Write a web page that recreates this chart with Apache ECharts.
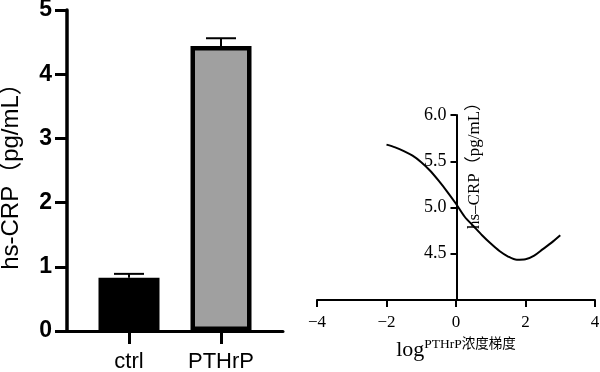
<!DOCTYPE html>
<html>
<head>
<meta charset="utf-8">
<script src="https://cdn.jsdelivr.net/npm/echarts@6/dist/echarts.min.js"></script>
<style>
html,body{margin:0;padding:0;background:#fff;}
#c{width:600px;height:372px;}
</style>
</head>
<body>
<div id="c"></div>
<script>
// ---- data ----
var barCategories = ['ctrl', 'PTHrP'];
var barMeans = [0.83, 4.44];
var barErrors = [0.06, 0.12];
var leftYTicks = [0, 1, 2, 3, 4, 5];

var curveX = [-2, -1.75, -1.5, -1.25, -1, -0.75, -0.5, -0.25, 0, 0.25, 0.5, 0.75, 1, 1.25, 1.5, 1.75, 2, 2.25, 2.5, 2.75, 3];
var curveY = [5.68, 5.65, 5.61, 5.56, 5.49, 5.40, 5.29, 5.17, 5.04, 4.90, 4.80, 4.70, 4.61, 4.53, 4.47, 4.435, 4.44, 4.48, 4.55, 4.62, 4.70];

var sansFont = "'Liberation Sans', 'Noto Sans CJK SC', sans-serif";
var serifFont = "'Liberation Serif', 'Noto Sans CJK SC', serif";

var chart = echarts.init(document.getElementById('c'), null, {renderer: 'canvas'});

var barData = barMeans.map(function (v, i) {
  return {
    value: v,
    itemStyle: i === 0
      ? {color: '#000000', borderColor: '#000000', borderWidth: 0}
      : {color: '#a0a0a0', borderColor: '#000000', borderWidth: 4.5}
  };
});
var errData = barMeans.map(function (v, i) { return [i, v, v + barErrors[i]]; });
var curveData = curveX.map(function (x, i) { return [x, curveY[i]]; });

var option = {
  backgroundColor: '#ffffff',
  animation: false,
  grid: [
    {left: 67, top: 10, width: 216, height: 321, containLabel: false, outerBoundsMode: 'none'},
    {left: 83, top: 10, width: 184, height: 321, containLabel: false, outerBoundsMode: 'none'},
    {left: 317, top: 115, width: 278, height: 185, containLabel: false, outerBoundsMode: 'none'}
  ],
  xAxis: [
    {
      gridIndex: 0, type: 'value', min: 0, max: 1,
      axisLine: {show: true, lineStyle: {color: '#000', width: 3}},
      axisTick: {show: false}, axisLabel: {show: false}, splitLine: {show: false}
    },
    {
      gridIndex: 1, type: 'category', data: barCategories,
      axisLine: {show: false},
      axisTick: {show: true, alignWithLabel: true, length: 13, lineStyle: {color: '#000', width: 3}},
      axisLabel: {color: '#000', fontFamily: sansFont, fontSize: 22, margin: 20},
      splitLine: {show: false}
    },
    {
      gridIndex: 2, type: 'value', min: -4, max: 4, interval: 2,
      axisLine: {show: true, onZero: false, lineStyle: {color: '#000', width: 2}},
      axisTick: {show: true, length: 7, lineStyle: {color: '#000', width: 2}},
      axisLabel: {
        color: '#000', fontFamily: serifFont, fontSize: 17, margin: 14,
        formatter: function (v) { return String(v).replace('-', '\u2212'); }
      },
      splitLine: {show: false},
      name: 'log{s|PTHrP浓度梯度}',
      nameLocation: 'middle', nameGap: 38, nameMoveOverlap: false,
      nameTextStyle: {
        color: '#000', fontFamily: serifFont, fontSize: 22, lineHeight: 24,
        rich: {s: {color: '#000', fontFamily: serifFont, fontSize: 13.5, verticalAlign: 'top', lineHeight: 15}}
      }
    }
  ],
  yAxis: [
    {
      gridIndex: 0, type: 'value', min: 0, max: 5, interval: 1,
      axisLine: {show: true, lineStyle: {color: '#000', width: 3.5}},
      axisTick: {show: true, length: 12, lineStyle: {color: '#000', width: 3}},
      axisLabel: {
        color: '#000', fontFamily: sansFont, fontSize: 23, fontWeight: 'bold', margin: 15,
        formatter: function (v) { return leftYTicks.indexOf(v) >= 0 ? String(v) : ''; }
      },
      splitLine: {show: false},
      name: 'hs-CRP（pg/mL）',
      nameLocation: 'middle', nameGap: 44, nameMoveOverlap: false,
      nameTextStyle: {color: '#000', fontFamily: sansFont, fontSize: 24}
    },
    {
      gridIndex: 1, type: 'value', min: 0, max: 5, interval: 1, show: false
    },
    {
      gridIndex: 2, type: 'value', min: 4, max: 6, interval: 0.5,
      offset: -139.5,
      axisLine: {show: true, onZero: false, lineStyle: {color: '#000', width: 2}},
      axisTick: {show: true, length: 6, lineStyle: {color: '#000', width: 2}},
      axisLabel: {
        color: '#000', fontFamily: serifFont, fontSize: 18, margin: 10,
        formatter: function (v) { return v === 4 ? '' : v.toFixed(1); }
      },
      splitLine: {show: false},
      name: 'hs\u2013CRP（pg/mL）',
      nameLocation: 'middle', nameGap: -27, nameRotate: 90, nameMoveOverlap: false,
      nameTextStyle: {color: '#000', fontFamily: serifFont, fontSize: 17, padding: [0, 0, 0, 92]}
    }
  ],
  series: [
    {
      type: 'bar', xAxisIndex: 1, yAxisIndex: 1,
      barWidth: 61, data: barData, z: 2
    },
    {
      type: 'custom', xAxisIndex: 1, yAxisIndex: 1, z: 3,
      data: errData,
      renderItem: function (params, api) {
        var base = api.coord([api.value(0), api.value(1)]);
        var top = api.coord([api.value(0), api.value(2)]);
        var half = 15;
        return {
          type: 'group',
          children: [
            {type: 'line', shape: {x1: base[0], y1: base[1], x2: top[0], y2: top[1]},
             style: {stroke: '#000', lineWidth: 2}},
            {type: 'line', shape: {x1: top[0] - half, y1: top[1], x2: top[0] + half, y2: top[1]},
             style: {stroke: '#000', lineWidth: 2}}
          ]
        };
      }
    },
    {
      type: 'line', xAxisIndex: 2, yAxisIndex: 2,
      data: curveData, smooth: 0.3, showSymbol: false, symbol: 'none',
      lineStyle: {color: '#000', width: 2}
    }
  ]
};
chart.setOption(option);
</script>
</body>
</html>
